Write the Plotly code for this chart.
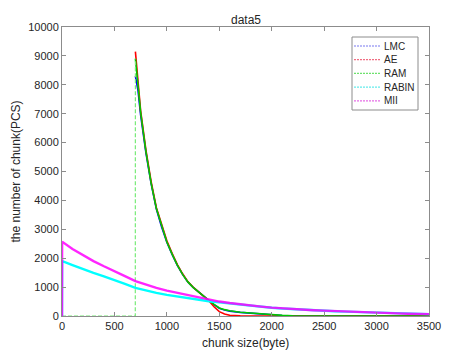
import plotly.graph_objects as go

# x positions for the three content-defined chunkers (no chunks below 700 bytes)
x_min = [0, 699]
x_dec = [700, 725, 750, 800, 850, 900, 950, 1000, 1050, 1100, 1150, 1200, 1250,
         1300, 1350, 1400, 1450, 1500, 1550, 1600, 1700, 1800, 1900, 2000, 2100,
         2200, 2500, 3000, 3500]
lmc = [8300, 7800, 6950, 5650, 4580, 3700, 3080, 2550, 2130, 1750, 1440, 1180, 990,
       830, 690, 540, 390, 270, 210, 170, 125, 95, 58, 33, 18, 10, 2, 0, 0]
ae = [9150, 8100, 7100, 5750, 4650, 3750, 3150, 2600, 2170, 1780, 1460, 1190, 1000,
      840, 690, 530, 320, 150, 70, 25, 5, 0, 0, 0, 0, 0, 0, 0, 0]
ram = [8900, 8000, 7050, 5700, 4600, 3720, 3100, 2560, 2140, 1760, 1440, 1180, 990,
       830, 690, 540, 400, 280, 220, 180, 130, 100, 60, 35, 20, 10, 2, 0, 0]

x_full = [0, 1, 100, 200, 300, 400, 500, 600, 700, 800, 900, 1000, 1100, 1200, 1300,
          1400, 1500, 1600, 1700, 1800, 1900, 2000, 2100, 2200, 2300, 2400, 2500,
          2600, 2700, 2800, 2900, 3000, 3100, 3200, 3300, 3400, 3500]
rabin = [0, 1900, 1760, 1620, 1490, 1370, 1250, 1110, 970, 880, 800, 730, 670, 610, 560,
         510, 470, 430, 390, 350, 315, 285, 258, 235, 215, 196, 180, 164, 150, 136,
         123, 111, 99, 89, 79, 71, 64]
mii = [0, 2570, 2320, 2100, 1900, 1720, 1560, 1380, 1210, 1080, 970, 880, 800, 720, 640,
       560, 500, 450, 400, 360, 325, 290, 262, 240, 220, 200, 185, 168, 152, 138,
       125, 113, 100, 90, 80, 72, 65]

y_ticks = [0, 1000, 2000, 3000, 4000, 5000, 6000, 7000, 8000, 9000, 10000]
x_ticks = [0, 500, 1000, 1500, 2000, 2500, 3000, 3500]

names = ["LMC", "AE", "RAM", "RABIN", "MII"]
colors = ["rgb(0,0,255)", "rgb(255,0,0)", "rgb(0,200,0)", "rgb(0,255,255)", "rgb(255,0,255)"]
legend_colors = ["rgb(120,120,240)", "rgb(240,110,130)", "rgb(110,225,110)",
                 "rgb(100,235,235)", "rgb(230,110,230)"]

fig = go.Figure()

for name, col, ys in zip(names[:3], colors[:3], [lmc, ae, ram]):
    fig.add_trace(go.Scatter(x=x_dec, y=ys, mode="lines",
                             line=dict(color=col, width=1.6),
                             showlegend=False, name=name))
# RAM: flat zero part + jump at the minimum chunk size, drawn dashed
fig.add_trace(go.Scatter(x=x_min + x_dec[:1], y=[0, 0] + ram[:1], mode="lines",
                         line=dict(color="rgb(120,235,120)", width=1.2, dash="4px,2px"),
                         showlegend=False, hoverinfo="skip"))

for name, col, ys in zip(names[3:], colors[3:], [rabin, mii]):
    fig.add_trace(go.Scatter(x=x_full, y=ys, mode="lines",
                             line=dict(color=col, width=2.4),
                             opacity=0.85 if name == "MII" else 1.0,
                             showlegend=False, name=name))

axis_common = dict(showline=True, linecolor="#8c8c8c", linewidth=1, mirror="ticks",
                   ticks="inside", ticklen=4, tickcolor="#8c8c8c", showgrid=False,
                   zeroline=False, automargin=False,
                   tickfont=dict(size=11, color="#262626"))

# plot area placed so that, with the page's 8px body margin, it sits at
# x 62..429, y 27..316 in the window
PL, PT, PW, PH = 54, 19, 367, 289

def px_x(px):  # window pixel -> paper x
    return (px - 62) / PW

def px_y(py):  # window pixel -> paper y
    return (316 - py) / PH

shapes = [dict(type="rect", xref="paper", yref="paper",
               x0=px_x(352), x1=px_x(418), y0=px_y(110), y1=px_y(37),
               line=dict(color="#8c8c8c", width=1), fillcolor="white", layer="above")]
annotations = [
    dict(text="data5", xref="paper", yref="paper", x=0.5, y=px_y(20),
         xanchor="center", yanchor="middle", showarrow=False,
         font=dict(size=12, color="#262626")),
    dict(text="chunk size(byte)", xref="paper", yref="paper", x=0.5, y=px_y(343),
         xanchor="center", yanchor="middle", showarrow=False,
         font=dict(size=12, color="#262626")),
    dict(text="the number of chunk(PCS)", xref="paper", yref="paper", x=px_x(15), y=0.5,
         xanchor="center", yanchor="middle", textangle=-90, showarrow=False,
         font=dict(size=12, color="#262626")),
]
entry_y = [46, 59.7, 73.4, 87.1, 100.8]
for name, col, ey in zip(names, legend_colors, entry_y):
    shapes.append(dict(type="line", xref="paper", yref="paper",
                       x0=px_x(354), x1=px_x(381), y0=px_y(ey), y1=px_y(ey),
                       line=dict(color=col, width=1.2, dash="2px,1px"), layer="above"))
    annotations.append(dict(text=name, xref="paper", yref="paper", x=px_x(382), y=px_y(ey),
                            xanchor="left", yanchor="middle", showarrow=False,
                            font=dict(size=10, color="#262626")))

fig.update_layout(
    width=474, height=355,
    margin=dict(l=PL, r=474 - PL - PW, t=PT, b=355 - PT - PH),
    paper_bgcolor="white", plot_bgcolor="white",
    font=dict(family="Liberation Sans, Arial, sans-serif", color="#262626"),
    xaxis=dict(range=[0, 3500], tickvals=x_ticks, ticktext=[str(v) for v in x_ticks],
               **axis_common),
    yaxis=dict(range=[0, 10000], tickvals=y_ticks, ticktext=[str(v) for v in y_ticks],
               **axis_common),
    showlegend=False,
    shapes=shapes,
    annotations=annotations,
)

fig.write_html("out.html")
